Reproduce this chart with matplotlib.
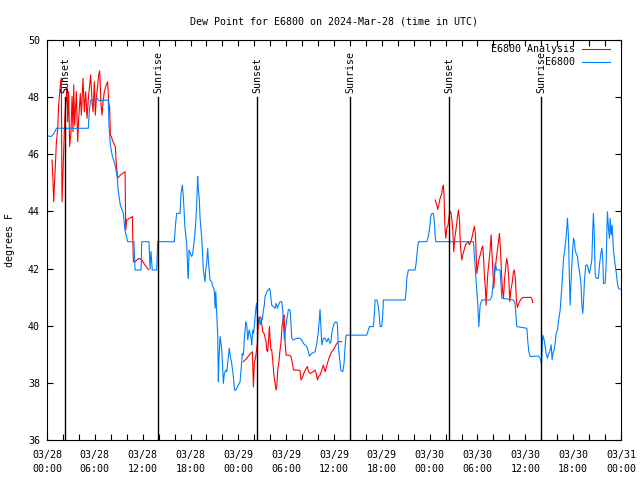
import numpy as np
import matplotlib.pyplot as plt
from matplotlib.ticker import MultipleLocator

plt.rcParams['font.family'] = 'DejaVu Sans Mono'
plt.rcParams['font.size'] = 7.2

# time axis is hours since 2024-03-28 00:00 UTC
tick_hours = list(range(0, 73, 6))
tick_labels = ['03/28\n00:00', '03/28\n06:00', '03/28\n12:00', '03/28\n18:00',
               '03/29\n00:00', '03/29\n06:00', '03/29\n12:00', '03/29\n18:00',
               '03/30\n00:00', '03/30\n06:00', '03/30\n12:00', '03/30\n18:00',
               '03/31\n00:00']

event_hours = [2.3, 13.95, 26.39, 38.0, 50.48, 62.0]
event_names = ['Sunset', 'Sunrise', 'Sunset', 'Sunrise', 'Sunset', 'Sunrise']

# observed dew point (hour, degF)
obs = [(0.0, 46.65), (0.5, 46.62), (0.8, 46.70), (1.2, 46.91), (5.18, 46.91), (5.3, 47.5),
       (5.48, 47.90), (6.3, 47.95), (6.5, 47.88), (7.69, 47.90), (7.78, 46.97), (7.95, 46.33),
       (8.2, 45.92), (8.5, 45.68), (8.8, 45.22), (8.95, 44.69), (9.2, 44.22), (9.57, 43.94),
       (9.8, 43.30), (10.13, 42.94), (10.9, 42.94), (11.05, 41.95), (11.8, 41.95), (11.88, 42.94),
       (12.8, 42.94), (12.92, 41.98), (13.05, 42.60), (13.2, 41.95), (13.76, 41.95), (13.89, 42.94),
       (15.97, 42.94), (16.15, 43.64), (16.27, 43.93), (16.69, 43.93), (16.81, 44.63), (16.98, 44.92),
       (17.1, 44.52), (17.31, 43.41), (17.52, 42.88), (17.65, 41.95), (17.73, 41.66), (17.82, 42.65),
       (17.98, 42.53), (18.15, 42.42), (18.28, 42.53), (18.48, 43.0), (18.65, 43.58), (18.78, 44.28),
       (18.9, 45.22), (18.98, 44.81), (19.11, 44.4), (19.2, 43.76), (19.4, 43.12), (19.61, 41.95),
       (19.82, 41.54), (19.91, 41.95), (20.04, 42.24), (20.16, 42.71), (20.24, 42.3), (20.45, 41.6),
       (20.66, 41.54), (20.74, 41.42), (20.99, 41.25), (21.08, 40.61), (21.17, 41.19), (21.29, 40.43),
       (21.42, 39.62), (21.49, 38.04), (21.58, 38.92), (21.71, 39.62), (21.83, 39.38), (21.92, 39.15),
       (22.04, 38.51), (22.12, 37.98), (22.25, 38.33), (22.42, 38.45), (22.55, 38.39), (22.75, 38.92),
       (22.87, 39.21), (23.0, 38.92), (23.17, 38.68), (23.38, 38.22), (23.5, 37.81), (23.59, 37.73),
       (23.8, 37.81), (24.0, 37.92), (24.22, 38.04), (24.34, 38.45), (24.5, 39.03), (24.63, 38.97),
       (24.75, 39.5), (24.93, 40.14), (25.06, 40.02), (25.18, 39.5), (25.35, 39.85), (25.47, 39.73),
       (25.6, 39.56), (25.68, 39.33), (25.81, 39.85), (25.93, 39.73), (26.1, 40.31), (26.22, 40.66),
       (26.31, 40.78), (26.43, 40.08), (26.6, 40.31), (26.73, 40.02), (26.85, 40.2), (27.01, 40.2),
       (27.14, 40.55), (27.26, 40.72), (27.35, 41.02), (27.57, 41.19), (27.77, 41.25), (27.9, 41.31),
       (27.98, 41.25), (28.07, 41.02), (28.19, 40.72), (28.4, 40.66), (28.61, 40.61), (28.73, 40.78),
       (28.9, 40.61), (29.02, 40.72), (29.23, 40.84), (29.45, 40.84), (29.57, 40.55), (29.65, 40.08),
       (29.78, 39.5), (29.9, 39.85), (30.07, 40.2), (30.28, 40.57), (30.49, 40.55), (30.61, 40.08),
       (30.7, 39.56), (30.9, 39.5), (31.33, 39.56), (31.74, 39.56), (31.96, 39.5), (32.16, 39.38),
       (32.58, 39.27), (32.79, 39.09), (32.91, 38.94), (33.21, 39.03), (33.63, 39.09), (33.84, 39.38),
       (34.04, 39.79), (34.25, 40.57), (34.34, 40.08), (34.47, 39.33), (34.67, 39.56), (34.88, 39.56),
       (35.09, 39.44), (35.3, 39.56), (35.51, 39.38), (35.63, 39.44), (35.72, 39.73), (35.85, 39.91),
       (36.01, 40.08), (36.26, 40.14), (36.42, 40.08), (36.55, 39.27), (36.76, 38.68), (36.85, 38.45),
       (37.1, 38.39), (37.26, 38.68), (37.39, 39.27), (37.52, 39.67), (40.11, 39.67), (40.31, 39.85),
       (40.44, 39.97), (40.94, 39.97), (41.07, 40.43), (41.15, 40.9), (41.37, 40.9), (41.49, 40.78),
       (41.66, 40.43), (41.78, 39.97), (41.99, 39.97), (42.12, 40.43), (42.2, 40.9), (44.92, 40.9),
       (45.04, 41.19), (45.13, 41.66), (45.33, 41.95), (46.17, 41.95), (46.3, 42.18), (46.46, 42.65),
       (46.59, 42.94), (47.64, 42.94), (47.77, 43.06), (47.97, 43.35), (48.14, 43.82), (48.27, 43.93),
       (48.47, 43.93), (48.6, 43.58), (48.68, 43.17), (48.76, 42.94), (53.49, 42.94), (53.7, 42.07),
       (53.91, 41.25), (54.04, 40.72), (54.17, 39.97), (54.33, 40.72), (54.54, 40.9), (55.58, 40.9),
       (55.8, 41.02), (56.21, 42.18), (56.42, 41.95), (56.84, 41.95), (57.05, 40.96), (58.51, 40.9),
       (58.72, 40.78), (58.93, 39.97), (60.19, 39.91), (60.31, 39.44), (60.44, 39.09), (60.6, 38.92),
       (61.64, 38.94), (61.86, 38.86), (62.02, 38.68), (62.19, 39.67), (62.36, 39.5), (62.48, 39.27),
       (62.61, 39.03), (62.77, 38.86), (62.95, 39.03), (63.11, 39.15), (63.24, 39.33), (63.36, 38.8),
       (63.45, 39.03), (63.61, 39.15), (63.74, 39.38), (63.86, 39.73), (64.03, 39.85), (64.15, 40.14),
       (64.37, 40.55), (64.58, 41.37), (64.7, 41.95), (64.78, 42.3), (64.99, 42.77), (65.12, 43.12),
       (65.28, 43.76), (65.41, 43.12), (65.53, 41.6), (65.62, 40.72), (65.71, 41.37), (65.83, 42.12),
       (65.96, 42.77), (66.04, 43.06), (66.16, 42.94), (66.25, 42.65), (66.37, 42.53), (66.54, 42.42),
       (66.66, 42.12), (66.88, 41.72), (67.0, 41.37), (67.09, 40.72), (67.21, 40.43), (67.29, 40.78),
       (67.42, 41.6), (67.59, 42.12), (67.79, 42.12), (67.92, 41.95), (68.04, 41.83), (68.22, 42.12),
       (68.34, 42.3), (68.47, 43.47), (68.54, 43.93), (68.63, 43.35), (68.76, 41.83), (68.88, 41.66),
       (69.17, 41.66), (69.3, 42.12), (69.47, 42.53), (69.6, 42.71), (69.72, 42.3), (69.8, 41.48),
       (70.01, 41.48), (70.14, 42.18), (70.23, 43.35), (70.3, 43.99), (70.43, 43.41), (70.55, 43.06),
       (70.64, 43.76), (70.77, 43.17), (70.89, 43.52), (71.05, 42.65), (71.27, 42.12), (71.39, 41.89),
       (71.56, 41.48), (71.68, 41.31), (71.9, 41.27)]

# analysis dew point, three separate runs (hour, degF)
ana_1 = [(0.63, 45.8), (0.75, 45.1), (0.84, 44.34), (1.05, 45.62), (1.17, 46.38), (1.34, 46.91),
         (1.46, 47.72), (1.67, 48.43), (1.80, 48.66), (1.88, 44.34), (2.01, 45.39), (2.17, 46.79),
         (2.30, 47.61), (2.43, 47.96), (2.51, 48.31), (2.59, 47.14), (2.72, 48.19), (2.84, 46.27),
         (3.01, 46.79), (3.14, 48.02), (3.26, 46.79), (3.35, 48.43), (3.47, 47.02), (3.68, 48.19),
         (3.85, 46.44), (3.97, 47.2), (4.18, 48.13), (4.31, 47.37), (4.52, 48.66), (4.68, 47.49),
         (4.85, 48.19), (5.02, 47.26), (5.19, 47.96), (5.35, 48.43), (5.48, 48.78), (5.65, 47.84),
         (5.77, 47.49), (5.94, 48.54), (6.06, 47.37), (6.19, 47.96), (6.36, 48.43), (6.48, 48.78),
         (6.61, 48.92), (6.78, 47.72), (6.9, 47.37), (7.03, 47.84), (7.19, 48.19), (7.44, 48.43),
         (7.61, 48.54), (7.74, 47.84), (7.86, 47.61), (7.95, 46.68), (8.07, 46.62), (8.28, 46.44),
         (8.57, 46.27), (8.7, 45.62), (8.87, 45.16), (9.2, 45.27), (9.79, 45.39), (9.87, 43.35),
         (10.0, 43.7), (10.71, 43.82), (10.83, 42.24), (11.04, 42.24), (11.54, 42.36), (11.88, 42.3),
         (12.3, 42.12), (12.71, 41.97)]
ana_2 = [(24.64, 38.74), (25.05, 38.86), (25.47, 39.01), (25.76, 39.09), (25.89, 37.86), (26.01, 38.68),
         (26.18, 38.92), (26.39, 39.38), (26.51, 40.08), (26.64, 40.26), (26.81, 40.31), (26.93, 40.08),
         (27.06, 39.79), (27.23, 39.73), (27.48, 39.44), (27.56, 39.15), (27.69, 39.09), (27.77, 39.44),
         (27.9, 39.97), (27.98, 39.56), (28.1, 39.15), (28.19, 39.15), (28.31, 38.8), (28.48, 38.22),
         (28.61, 37.98), (28.73, 37.75), (28.82, 37.86), (28.94, 38.45), (29.07, 38.68), (29.23, 39.15),
         (29.36, 39.44), (29.48, 39.97), (29.65, 40.31), (29.74, 40.37), (29.86, 39.44), (29.99, 38.97),
         (30.28, 38.97), (30.57, 38.94), (30.7, 38.8), (30.82, 38.62), (30.91, 38.45), (31.32, 38.45),
         (31.74, 38.43), (31.87, 38.1), (32.08, 38.22), (32.25, 38.36), (32.5, 38.51), (32.67, 38.57),
         (32.79, 38.39), (33.0, 38.33), (33.42, 38.39), (33.63, 38.45), (33.75, 38.36), (33.92, 38.1),
         (34.05, 38.22), (34.25, 38.27), (34.46, 38.45), (34.67, 38.62), (34.88, 38.39), (35.01, 38.51),
         (35.17, 38.68), (35.3, 38.8), (35.51, 38.97), (35.72, 39.09), (35.93, 39.15), (36.14, 39.27),
         (36.35, 39.38), (36.55, 39.44), (36.97, 39.44)]
ana_3 = [(48.68, 44.4), (48.89, 44.23), (49.02, 44.07), (49.18, 44.28), (49.31, 44.46), (49.52, 44.63),
         (49.64, 44.87), (49.73, 44.92), (49.81, 44.52), (49.89, 43.58), (50.02, 43.06), (50.15, 43.41),
         (50.31, 43.53), (50.48, 43.93), (50.65, 43.99), (50.77, 43.76), (50.9, 43.35), (51.02, 42.59),
         (51.15, 43.06), (51.32, 43.41), (51.49, 43.82), (51.61, 44.05), (51.74, 43.7), (51.86, 42.77),
         (52.03, 42.3), (52.15, 42.47), (52.32, 42.65), (52.49, 42.83), (52.65, 42.88), (52.82, 42.94),
         (52.99, 42.83), (53.16, 42.94), (53.33, 43.12), (53.49, 43.35), (53.62, 43.47), (53.74, 43.18),
         (53.83, 42.53), (53.91, 41.83), (54.04, 42.07), (54.16, 42.3), (54.33, 42.47), (54.54, 42.71),
         (54.66, 42.79), (54.75, 42.42), (54.87, 41.72), (55.0, 41.25), (55.08, 40.72), (55.17, 41.25),
         (55.29, 41.83), (55.42, 42.18), (55.58, 42.65), (55.71, 43.18), (55.79, 42.65), (55.92, 41.95),
         (56.04, 41.31), (56.17, 41.83), (56.34, 42.3), (56.5, 42.65), (56.63, 42.94), (56.75, 43.23),
         (56.88, 42.65), (57.0, 41.89), (57.13, 41.25), (57.26, 40.96), (57.38, 41.6), (57.55, 42.07),
         (57.67, 42.36), (57.8, 42.13), (57.93, 41.6), (58.05, 40.84), (58.18, 41.25), (58.34, 41.48),
         (58.51, 41.89), (58.63, 41.95), (58.76, 41.6), (58.89, 40.84), (59.01, 40.64), (59.18, 40.78),
         (59.35, 40.88), (59.55, 40.96), (59.76, 40.99), (60.18, 40.99), (60.69, 40.99), (60.81, 40.96),
         (60.94, 40.81)]

red = '#ff0000'
blue = '#0080ff'

fig = plt.figure(figsize=(6.4, 4.8), dpi=100)
ax = fig.add_axes([47/640, 40/480, 574/640, 400/480])

for seg in (ana_1, ana_2, ana_3):
    t, v = np.array(seg).T
    ax.plot(t, v, color=red, lw=0.8)
t, v = np.array(obs).T
ax.plot(t, v, color=blue, lw=0.8)

for t_ev, name in zip(event_hours, event_names):
    ax.plot([t_ev, t_ev], [36, 48], color='black', lw=1.0)
    ax.text(t_ev, 48.15, name, rotation=90, ha='center', va='bottom')

# key, right justified like gnuplot
ax.text(0.92, 0.9775, 'E6800 Analysis', transform=ax.transAxes, ha='right', va='center')
ax.plot([0.932, 0.981], [0.9775, 0.9775], color=red, lw=0.8, transform=ax.transAxes)
ax.text(0.92, 0.945, 'E6800', transform=ax.transAxes, ha='right', va='center')
ax.plot([0.932, 0.981], [0.945, 0.945], color=blue, lw=0.8, transform=ax.transAxes)

ax.set_xlim(0, 72)
ax.set_ylim(36, 50)
ax.set_xticks(tick_hours)
ax.set_xticklabels(tick_labels, linespacing=1.5)
ax.xaxis.set_minor_locator(MultipleLocator(2))
ax.set_yticks(range(36, 51, 2))
ax.tick_params(which='both', direction='in', top=True, right=True, length=4, width=0.8)
ax.tick_params(axis='x', pad=7)
ax.tick_params(axis='y', pad=5)
for s in ax.spines.values():
    s.set_linewidth(0.8)

ax.set_title('Dew Point for E6800 on 2024-Mar-28 (time in UTC)', fontsize=7.2, pad=11)
fig.text(10/640, 0.5, 'degrees F', rotation=90, ha='center', va='center')

plt.savefig('out.png', dpi=100)
